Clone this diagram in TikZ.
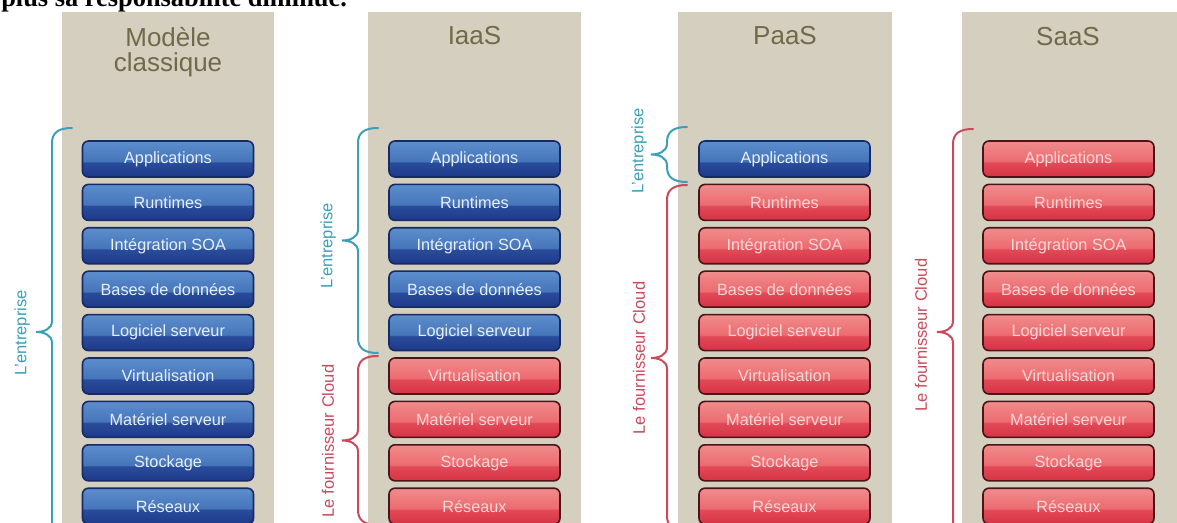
\documentclass[tikz,border=0pt]{standalone}
\usepackage{fontspec}
\setmainfont{Liberation Sans}
\newfontfamily\bodyserif{Liberation Serif}

\definecolor{panelbg}{HTML}{D5CFC0}
\definecolor{titlecol}{HTML}{6F6B48}
\definecolor{blueB}{HTML}{1D3A88}
\definecolor{blueM}{HTML}{2A4B9C}
\definecolor{blueL}{HTML}{4676BA}
\definecolor{blueT}{HTML}{5C8DCC}
\definecolor{blueedge}{HTML}{172A64}
\definecolor{bluetext}{HTML}{E8EEF7}
\definecolor{redB}{HTML}{D63244}
\definecolor{redM}{HTML}{E24A58}
\definecolor{redL}{HTML}{EC6B70}
\definecolor{redT}{HTML}{F08C8C}
\definecolor{rededge}{HTML}{4A1518}
\definecolor{redtext}{HTML}{F8D6D6}
\definecolor{entcol}{HTML}{3A9FB7}
\definecolor{cloudcol}{HTML}{C84A5C}

% glossy two-tone fills for the layer boxes
\pgfdeclareverticalshading{blueshade}{100bp}{color(0bp)=(blueB); color(25bp)=(blueB); color(45bp)=(blueM); color(47bp)=(blueL); color(75bp)=(blueT); color(100bp)=(blueT)}
\pgfdeclareverticalshading{redshade}{100bp}{color(0bp)=(redB); color(25bp)=(redB); color(45bp)=(redM); color(47bp)=(redL); color(75bp)=(redT); color(100bp)=(redT)}

\tikzset{
  panel/.style={fill=panelbg, draw=none},
  layer/.style={minimum width=128.25pt, minimum height=27pt, rounded corners=4.5pt,
    line width=1.2pt, inner sep=0pt, font=\fontsize{12.2}{14}\selectfont},
  bluelayer/.style={layer, draw=blueedge, shading=blueshade, text=bluetext},
  redlayer/.style={layer, draw=rededge, shading=redshade, text=redtext},
  title/.style={text=titlecol, font=\fontsize{19.5}{22}\selectfont, anchor=base, inner sep=0pt},
  sidelabel/.style={rotate=90, font=\fontsize{12.4}{14}\selectfont, inner sep=0pt},
  bracepath/.style={line width=1.5pt, line cap=round}
}

% curly brace standing left of a column: x, top, bottom, colour
\newcommand\layerbrace[4]{%
  \pgfmathsetmacro\bracemid{(#2+#3)/2}%
  \draw[bracepath,#4] ({#1+20},#2) .. controls ({#1+6},#2) and (#1,{#2+5}) .. (#1,{#2+15})
    -- (#1,{\bracemid-11}) .. controls (#1,{\bracemid-3}) and ({#1-8},\bracemid) .. ({#1-16},\bracemid)
    .. controls ({#1-8},\bracemid) and (#1,{\bracemid+3}) .. (#1,{\bracemid+11})
    -- (#1,{#3-15}) .. controls (#1,{#3-5}) and ({#1+6},#3) .. ({#1+20},#3);
}

% a column of the nine layers: name prefix, centre x, number of blue layers
\newcommand\layerstack[3]{%
  \foreach \t [count=\i] in {Applications, Runtimes, Intégration SOA, Bases de données,
      Logiciel serveur, Virtualisation, Matériel serveur, Stockage, Réseaux}{%
    \ifnum\i>#3 \def\layersty{redlayer}\else\def\layersty{bluelayer}\fi
    \node[\layersty] (#1-\i) at (#2,{159+43.4*(\i-1)}) {\t};
  }%
}

\begin{document}
\begin{tikzpicture}[x=0.75pt,y=-0.75pt]
\useasboundingbox (0,0) rectangle (1177,523);
\clip (0,0) rectangle (1177,523);

% running text above the figure
\node[anchor=base west, inner sep=0pt, font=\bodyserif\bfseries\fontsize{19.8}{22}\selectfont] (intro) at (1,7) {plus sa responsabilité diminue.};

% column backgrounds
\fill[panel] (62,12) rectangle (274,530);
\fill[panel] (368,12) rectangle (581,530);
\fill[panel] (678,12) rectangle (892,530);
\fill[panel] (962,12) rectangle (1177,530);

% column titles
\node[title] (t1a) at (168,47) {Modèle};
\node[title] (t1b) at (168,72) {classique};
\node[title] (t2) at (474.5,45) {IaaS};
\node[title] (t3) at (785,45) {PaaS};
\node[title] (t4) at (1068,45.5) {SaaS};

% layer stacks
\layerstack{m}{168}{9}
\layerstack{i}{474.5}{5}
\layerstack{p}{784.5}{1}
\layerstack{s}{1068.5}{0}

% responsibility braces
\layerbrace{52}{128}{536}{entcol}
\layerbrace{358}{128}{353}{entcol}
\layerbrace{358}{356}{525}{cloudcol}
\layerbrace{667}{127}{182}{entcol}
\layerbrace{667}{185}{531}{cloudcol}
\layerbrace{953}{129}{535}{cloudcol}

% brace labels
\node[sidelabel, text=entcol] (l1) at (22,333) {L'entreprise};
\node[sidelabel, text=entcol] (l2) at (328,246) {L'entreprise};
\node[sidelabel, text=cloudcol] (l3) at (328,441) {Le fournisseur Cloud};
\node[sidelabel, text=entcol] (l4) at (639,151) {L'entreprise};
\node[sidelabel, text=cloudcol] (l5) at (639,358) {Le fournisseur Cloud};
\node[sidelabel, text=cloudcol] (l6) at (921,335) {Le fournisseur Cloud};
\end{tikzpicture}
\end{document}
